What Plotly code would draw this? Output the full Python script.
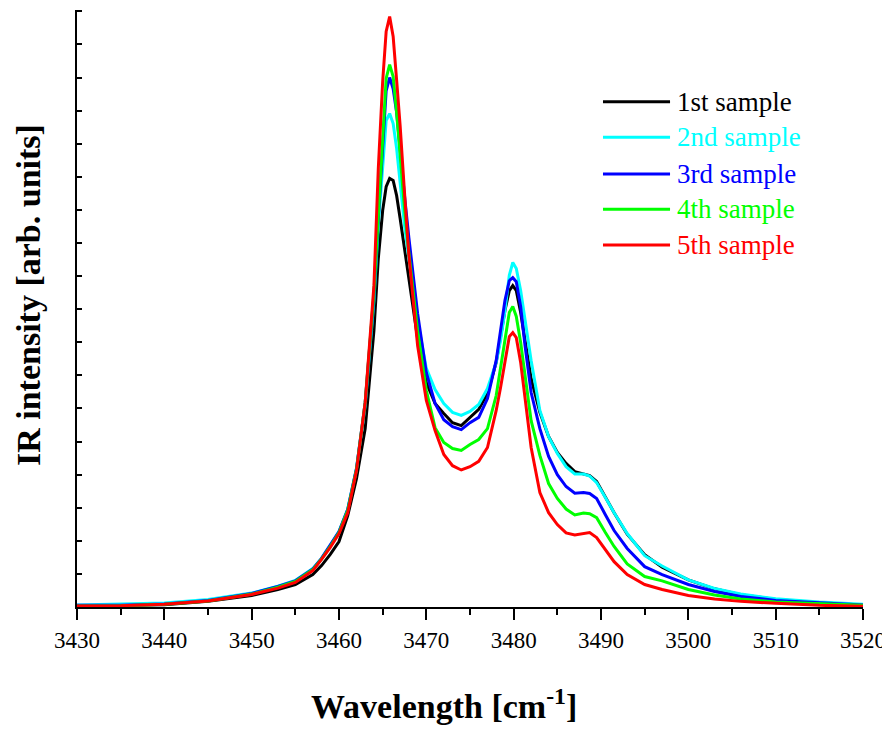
import plotly.graph_objects as go

wavenumber = [3430, 3435, 3440, 3445, 3450, 3453, 3455, 3457, 3458, 3459, 3460, 3461, 3462, 3463,
              3464, 3464.5, 3465, 3465.4, 3465.8, 3466.2, 3466.6, 3467, 3467.5, 3468, 3469, 3470,
              3471, 3472, 3473, 3474, 3475, 3476, 3477, 3478, 3478.5, 3479, 3479.5, 3479.9, 3480.3,
              3480.8, 3481.3, 3482, 3483, 3484, 3485, 3486, 3487, 3488, 3488.7, 3489.5, 3490.5,
              3491.5, 3493, 3495, 3497, 3500, 3503, 3506, 3510, 3515, 3520]

sample1 = [0.03, 0.04, 0.07, 0.17, 0.35, 0.53, 0.68, 0.98, 1.25, 1.59, 1.98, 2.76, 3.88, 5.39,
           8.35, 10.53, 11.98, 12.70, 12.95, 12.89, 12.43, 11.74, 10.83, 9.80, 8.11, 6.78,
           6.15, 5.85, 5.57, 5.48, 5.73, 5.97, 6.45, 7.39, 8.17, 8.96, 9.56, 9.71, 9.56,
           8.90, 8.05, 6.90, 5.88, 5.15, 4.67, 4.34, 4.09, 4.03, 3.97, 3.79, 3.31,
           2.85, 2.20, 1.58, 1.20, 0.82, 0.55, 0.37, 0.23, 0.13, 0.06]

sample2 = [0.06, 0.08, 0.12, 0.23, 0.42, 0.63, 0.80, 1.16, 1.47, 1.86, 2.28, 2.95, 4.18, 6.09,
           9.26, 11.53, 13.34, 14.70, 14.91, 14.61, 13.85, 12.79, 11.53, 10.53, 8.66, 7.21,
           6.57, 6.15, 5.88, 5.79, 5.91, 6.12, 6.60, 7.39, 8.05, 8.96, 10.02, 10.41, 10.23,
           9.56, 8.66, 7.45, 5.94, 5.15, 4.64, 4.24, 4.02, 4.02, 3.96, 3.76, 3.31,
           2.85, 2.22, 1.55, 1.24, 0.82, 0.56, 0.39, 0.25, 0.15, 0.08]

sample3 = [0.05, 0.05, 0.09, 0.20, 0.41, 0.62, 0.79, 1.15, 1.47, 1.86, 2.28, 2.95, 4.18, 6.18,
           9.41, 11.74, 14.09, 15.60, 16.00, 15.66, 14.94, 13.79, 12.43, 11.16, 8.87, 7.08,
           6.15, 5.66, 5.45, 5.36, 5.57, 5.73, 6.30, 7.45, 8.35, 9.26, 9.86, 9.95, 9.83,
           9.08, 7.90, 6.48, 5.39, 4.55, 4.00, 3.64, 3.44, 3.46, 3.43, 3.28, 2.79,
           2.31, 1.77, 1.22, 0.98, 0.68, 0.47, 0.32, 0.20, 0.12, 0.06]

sample4 = [0.03, 0.04, 0.08, 0.18, 0.39, 0.60, 0.77, 1.13, 1.45, 1.83, 2.25, 2.92, 4.15, 6.18,
           9.50, 11.83, 14.46, 15.97, 16.39, 16.03, 14.94, 13.64, 12.04, 10.71, 8.35, 6.54,
           5.42, 4.97, 4.79, 4.73, 4.91, 5.06, 5.39, 6.39, 7.21, 8.05, 8.90, 9.08, 8.78,
           7.99, 6.99, 5.63, 4.58, 3.73, 3.28, 2.96, 2.78, 2.84, 2.82, 2.70, 2.25,
           1.83, 1.30, 0.92, 0.79, 0.53, 0.36, 0.24, 0.15, 0.09, 0.05]

sample5 = [0.03, 0.04, 0.08, 0.18, 0.38, 0.57, 0.74, 1.10, 1.44, 1.80, 2.22, 2.85, 4.12, 6.18,
           9.71, 13.25, 15.88, 17.39, 17.84, 17.24, 15.91, 14.55, 12.52, 10.62, 7.90, 6.24,
           5.33, 4.61, 4.27, 4.14, 4.24, 4.40, 4.82, 5.94, 6.63, 7.45, 8.17, 8.29, 8.14,
           7.39, 6.39, 4.82, 3.46, 2.85, 2.49, 2.24, 2.18, 2.22, 2.25, 2.10, 1.74,
           1.37, 0.98, 0.68, 0.53, 0.35, 0.24, 0.17, 0.11, 0.05, 0.02]

series_names = ["1st sample", "2nd sample", "3rd sample", "4th sample", "5th sample"]
series_values = [sample1, sample2, sample3, sample4, sample5]
series_colors = ["#000000", "#00FFFF", "#0000FF", "#00FF00", "#FF0000"]

x_ticks = [3430, 3440, 3450, 3460, 3470, 3480, 3490, 3500, 3510, 3520]

FONT = "Liberation Serif, Times New Roman, serif"

fig = go.Figure()
for name, vals, col in zip(series_names, series_values, series_colors):
    fig.add_trace(go.Scatter(x=wavenumber, y=vals, mode="lines", name=name,
                             line=dict(color=col, width=3), showlegend=False))

# manual legend (long line samples, coloured text)
legend_y = [0.8464, 0.7868, 0.7253, 0.6662, 0.6064]
for name, col, ly in zip(series_names, series_colors, legend_y):
    fig.add_shape(type="line", xref="paper", yref="paper", x0=0.6692, x1=0.7545, y0=ly, y1=ly,
                  line=dict(color=col, width=3))
    fig.add_annotation(xref="paper", yref="paper", x=0.7610, y=ly, xanchor="left", yanchor="middle",
                       text=name, showarrow=False, font=dict(family=FONT, size=27, color=col))

fig.add_annotation(xref="paper", yref="paper", x=0.4663, y=-0.162, xanchor="center", yanchor="middle",
                   text="<b>Wavelength [cm<sup>-1</sup>]</b>", showarrow=False,
                   font=dict(family=FONT, size=34, color="black"))
fig.add_annotation(xref="paper", yref="paper", x=-0.0623, y=0.5226, xanchor="center", yanchor="middle",
                   text="<b>IR intensity [arb. units]</b>", textangle=-90, showarrow=False,
                   font=dict(family=FONT, size=34, color="black"))

# the page body has an 8px margin, so the figure is sized/offset to compensate
fig.update_layout(
    width=882, height=721,
    margin=dict(l=69, r=27, t=2, b=122),
    paper_bgcolor="white", plot_bgcolor="white",
    font=dict(family=FONT, color="black"),
    xaxis=dict(range=[3430, 3520], tickvals=x_ticks, ticktext=[str(v) for v in x_ticks],
               showgrid=False, zeroline=False, showline=True, linecolor="black", linewidth=2,
               ticks="outside", ticklen=11, tickwidth=2, tickcolor="black",
               tickfont=dict(family=FONT, size=23, color="black"),
               minor=dict(dtick=5, tick0=3430, ticks="outside", ticklen=6, tickwidth=2, tickcolor="black")),
    yaxis=dict(range=[0, 18.04], dtick=1, tick0=0, showticklabels=False,
               showgrid=False, zeroline=False, showline=True, linecolor="black", linewidth=2,
               ticks="inside", ticklen=5, tickwidth=1.5, tickcolor="black"),
)

fig.write_html("out.html")
